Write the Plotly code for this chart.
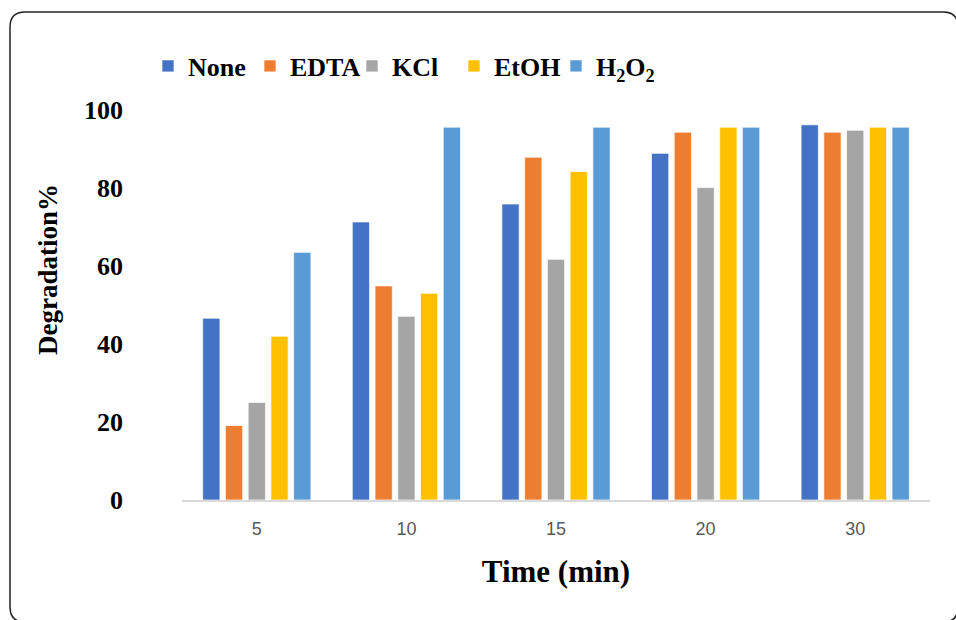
import plotly.graph_objects as go

# Reaction time (min) on the category axis
times = ["5", "10", "15", "20", "30"]

# Degradation % for each scavenger condition
none_vals = [46.6, 71.3, 75.9, 88.9, 96.2]
edta_vals = [19.1, 54.9, 87.9, 94.3, 94.3]
kcl_vals = [25.0, 47.1, 61.7, 80.1, 94.8]
etoh_vals = [42.0, 53.0, 84.2, 95.6, 95.6]
h2o2_vals = [63.5, 95.6, 95.6, 95.6, 95.6]

series_names = ["None", "EDTA", "KCl", "EtOH", "H<sub>2</sub>O<sub>2</sub>"]
series_vals = [none_vals, edta_vals, kcl_vals, etoh_vals, h2o2_vals]
series_colors = ["#4472C4", "#ED7D31", "#A5A5A5", "#FFC000", "#5B9BD5"]

W, H = 956, 620
L, R, T, B = 182, 26, 110, 120

def px_to_paper(px, py):
    return (px - L) / (W - L - R), (H - B - py) / (H - T - B)

fig = go.Figure()
for name, vals, col in zip(series_names, series_vals, series_colors):
    fig.add_trace(go.Bar(
        x=times, y=vals, name=name,
        marker=dict(color=col, line=dict(color="rgba(255,255,255,0.7)", width=1)),
    ))

serif = "Liberation Serif, Times New Roman, serif"

# rounded frame around the whole chart
x0, y0 = px_to_paper(10, 12)
x1, y1 = px_to_paper(958, 622)
rx = 15 / (W - L - R)
ry = 15 / (H - T - B)
frame = (f"M {x0+rx},{y0} L {x1-rx},{y0} Q {x1},{y0} {x1},{y0-ry} "
         f"L {x1},{y1+ry} Q {x1},{y1} {x1-rx},{y1} "
         f"L {x0+rx},{y1} Q {x0},{y1} {x0},{y1+ry} "
         f"L {x0},{y0-ry} Q {x0},{y0} {x0+rx},{y0} Z")

lx, ly = px_to_paper(148, 66)
tx, ty = px_to_paper(48, 270)

fig.update_layout(
    width=W, height=H,
    margin=dict(l=L, r=R, t=T, b=B),
    paper_bgcolor="white", plot_bgcolor="white",
    barmode="group", bargap=0.24, bargroupgap=0.24,
    showlegend=True,
    legend=dict(
        orientation="h", x=lx, y=ly, xanchor="left", yanchor="middle",
        font=dict(family=serif, size=26, color="black", weight="bold"),
        entrywidthmode="pixels", entrywidth=57,
        itemclick=False, traceorder="normal",
    ),
    xaxis=dict(
        showline=True, linecolor="#D9D9D9", linewidth=1.5,
        showgrid=False, ticks="", ticklabelstandoff=12,
        tickfont=dict(family="Liberation Sans Narrow, Liberation Sans, sans-serif", size=18, color="#595959"),
        title=dict(text="<b>Time (min)</b>", font=dict(family=serif, size=31, color="black"), standoff=22),
    ),
    yaxis=dict(
        range=[0, 100], tickvals=[0, 20, 40, 60, 80, 100],
        showline=False, showgrid=False, zeroline=False, ticks="",
        ticklabelstandoff=58,
        tickfont=dict(family=serif, size=26, color="black", weight="bold"),
    ),
    shapes=[dict(type="path", xref="paper", yref="paper", path=frame,
                 line=dict(color="#222222", width=1.5), fillcolor="rgba(0,0,0,0)", layer="below")],
    annotations=[dict(
        text="<b>Degradation%</b>", textangle=-90, x=tx, y=ty,
        xref="paper", yref="paper", xanchor="center", yanchor="middle",
        showarrow=False,
        font=dict(family=serif, size=27, color="black"),
    )],
)

fig.write_html("out.html")
